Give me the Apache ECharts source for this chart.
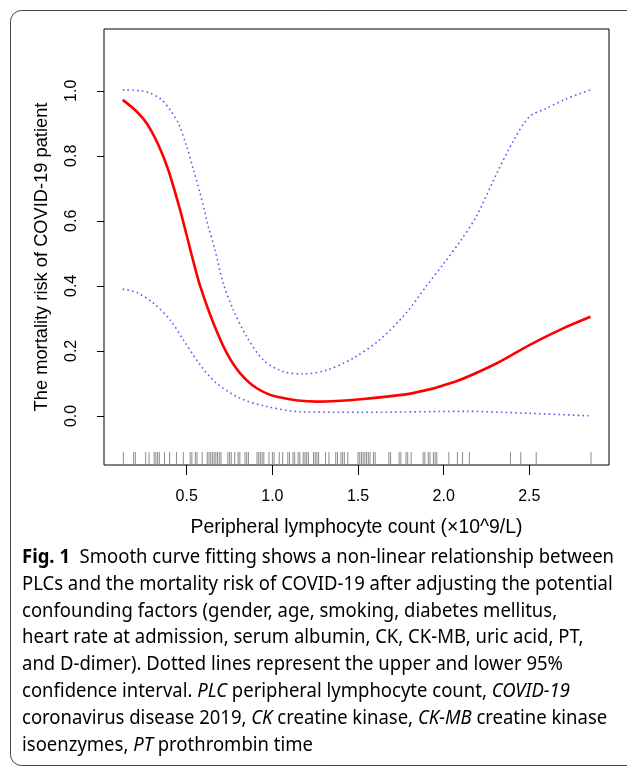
<!DOCTYPE html>
<html>
<head>
<meta charset="utf-8">
<script src="https://cdn.jsdelivr.net/npm/echarts@6/dist/echarts.min.js"></script>
<style>
  html, body { margin: 0; padding: 0; background: #fff; }
  #chart { width: 627px; height: 768px; }
</style>
</head>
<body>
<div id="chart"></div>
<script>
// fitted curve (red)
const fitX = [0.126, 0.2, 0.266, 0.334, 0.392, 0.461, 0.5, 0.54, 0.578, 0.656, 0.734, 0.812, 0.909, 1.026, 1.26, 1.53, 1.82, 2.07, 2.31, 2.5, 2.7, 2.857];
const fitY = [0.972, 0.94, 0.9, 0.834, 0.757, 0.634, 0.555, 0.472, 0.4, 0.285, 0.193, 0.131, 0.085, 0.059, 0.044, 0.052, 0.07, 0.106, 0.162, 0.218, 0.27, 0.305];

// upper 95% CI
const upperX = [0.126, 0.228, 0.286, 0.354, 0.403, 0.451, 0.5, 0.539, 0.578, 0.626, 0.665, 0.713, 0.772, 0.85, 0.947, 1.064, 1.18, 1.317, 1.47, 1.626, 1.78, 1.9, 2.0, 2.1, 2.19, 2.31, 2.41, 2.5, 2.6, 2.71, 2.857];
const upperY = [1.003, 1.0, 0.993, 0.972, 0.941, 0.9, 0.828, 0.757, 0.685, 0.582, 0.51, 0.408, 0.326, 0.244, 0.172, 0.136, 0.129, 0.141, 0.177, 0.234, 0.316, 0.4, 0.468, 0.54, 0.613, 0.746, 0.849, 0.92, 0.946, 0.974, 1.003];

// lower 95% CI
const lowerX = [0.126, 0.208, 0.305, 0.403, 0.48, 0.578, 0.675, 0.812, 0.967, 1.16, 1.53, 2.13, 2.5, 2.857];
const lowerY = [0.39, 0.38, 0.347, 0.295, 0.234, 0.157, 0.1, 0.054, 0.029, 0.013, 0.011, 0.014, 0.008, 0.0];

// observed PLC values (rug)
const rugX = [0.13, 0.19, 0.2, 0.26, 0.28, 0.31, 0.32, 0.33, 0.34, 0.37, 0.4, 0.44, 0.48,
  0.52, 0.53, 0.55, 0.56, 0.59, 0.62, 0.63, 0.64, 0.65, 0.66, 0.67, 0.68, 0.69, 0.7,
  0.74, 0.75, 0.76, 0.78, 0.8, 0.81, 0.84, 0.85, 0.86, 0.91, 0.92, 0.93, 0.94, 0.95,
  0.98, 1.0, 1.01, 1.04, 1.06, 1.09, 1.1, 1.12, 1.13, 1.15, 1.16, 1.18, 1.19, 1.2, 1.21,
  1.24, 1.25, 1.26, 1.27, 1.31, 1.33, 1.37, 1.38, 1.4, 1.41, 1.42, 1.44,
  1.5, 1.51, 1.52, 1.53, 1.54, 1.55, 1.56, 1.57, 1.59, 1.6, 1.68, 1.69, 1.74, 1.75,
  1.78, 1.79, 1.81, 1.88, 1.89, 1.91, 1.92, 1.94, 1.95, 1.96, 2.03, 2.08, 2.11, 2.15,
  2.39, 2.45, 2.54, 2.86];

const xTicks = [0.5, 1.0, 1.5, 2.0, 2.5];
const yTicks = [0, 0.2, 0.4, 0.6, 0.8, 1.0];

const captionLines = [
  [["b", "Fig. 1"], ["n", "  Smooth curve fitting shows a non-linear relationship between"]],
  [["n", "PLCs and the mortality risk of COVID-19 after adjusting the potential"]],
  [["n", "confounding factors (gender, age, smoking, diabetes mellitus,"]],
  [["n", "heart rate at admission, serum albumin, CK, CK-MB, uric acid, PT,"]],
  [["n", "and D-dimer). Dotted lines represent the upper and lower 95%"]],
  [["n", "confidence interval. "], ["i", "PLC"], ["n", " peripheral lymphocyte count, "], ["i", "COVID-19"]],
  [["n", "coronavirus disease 2019, "], ["i", "CK"], ["n", " creatine kinase, "], ["i", "CK-MB"], ["n", " creatine kinase"]],
  [["n", "isoenzymes, "], ["i", "PT"], ["n", " prothrombin time"]]
];

const pairs = (xs, ys) => xs.map((x, i) => [x, ys[i]]);

const Y_MIN = -0.151;
const CAP_FONT = "Noto Sans";
const CAP_SIZE = 20;
const fontFor = (k) =>
  (k === "b" ? "bold " : k === "i" ? "italic " : "") + CAP_SIZE + "px '" + CAP_FONT + "'";

// squeeze caption horizontally so the first line spans the same width as the figure
const ctx = document.createElement("canvas").getContext("2d");
const lineWidth = (segs) =>
  segs.reduce((w, [k, t]) => { ctx.font = fontFor(k); return w + ctx.measureText(t).width; }, 0);
const capScale = 592 / lineWidth(captionLines[0]);

const captionGraphics = captionLines.map((segs, i) => ({
  type: "text",
  x: 22,
  y: 557 + i * 26.9,
  scaleX: capScale,
  style: {
    text: segs.map(([k, t]) => "{" + k + "|" + t + "}").join(""),
    rich: {
      n: { fontFamily: CAP_FONT, fontSize: CAP_SIZE, color: "#231f20" },
      b: { fontFamily: CAP_FONT, fontSize: CAP_SIZE, fontWeight: "bold", color: "#231f20" },
      i: { fontFamily: CAP_FONT, fontSize: CAP_SIZE, fontStyle: "italic", color: "#231f20" }
    },
    verticalAlign: "middle"
  }
}));

const chart = echarts.init(document.getElementById("chart"), null, { renderer: "canvas" });

const dotted = { color: "#5a5aff", width: 1.6, type: [1.6, 3.2] };

chart.setOption({
  backgroundColor: "#fff",
  animation: false,
  grid: {
    left: 104, top: 29, width: 505, height: 436,
    show: true, borderColor: "#000", borderWidth: 1, backgroundColor: "transparent"
  },
  xAxis: {
    type: "value",
    min: 0.017,
    max: 2.965,
    axisLine: { show: false, onZero: false },
    splitLine: { show: false },
    axisTick: { show: true, length: 10, customValues: xTicks, lineStyle: { color: "#000" } },
    axisLabel: {
      customValues: xTicks,
      formatter: (v) => v.toFixed(1),
      margin: 24,
      color: "#000",
      fontFamily: "Liberation Sans",
      fontSize: 16
    },
    name: "Peripheral lymphocyte count (\u00d710^9/L)",
    nameLocation: "middle",
    nameGap: 53,
    nameTextStyle: { color: "#000", fontFamily: "Liberation Sans", fontSize: 19.4 }
  },
  yAxis: {
    type: "value",
    min: Y_MIN,
    max: 1.19,
    axisLine: { show: false, onZero: false },
    splitLine: { show: false },
    axisTick: { show: true, length: 7, customValues: yTicks, lineStyle: { color: "#000" } },
    axisLabel: {
      customValues: yTicks,
      formatter: (v) => v.toFixed(1),
      rotate: 90,
      margin: 24,
      color: "#000",
      fontFamily: "Liberation Sans",
      fontSize: 16
    },
    name: "The mortality risk of COVID-19 patient",
    nameLocation: "middle",
    nameGap: 53,
    nameTextStyle: {
      color: "#000", fontFamily: "Liberation Sans", fontSize: 18.3,
      padding: [0, 20, 0, 0]
    }
  },
  series: [
    {
      name: "rug",
      type: "custom",
      silent: true,
      data: rugX.map((x) => [x]),
      renderItem: (params, api) => {
        const p = api.coord([api.value(0), Y_MIN]);
        return {
          type: "line",
          shape: { x1: p[0], y1: p[1], x2: p[0], y2: p[1] - 13 },
          style: { stroke: "#8c8c8c", lineWidth: 1 }
        };
      }
    },
    {
      name: "upper",
      type: "line",
      data: pairs(upperX, upperY),
      smooth: 0.3,
      showSymbol: false,
      lineStyle: dotted
    },
    {
      name: "lower",
      type: "line",
      data: pairs(lowerX, lowerY),
      smooth: 0.3,
      showSymbol: false,
      lineStyle: dotted
    },
    {
      name: "fit",
      type: "line",
      data: pairs(fitX, fitY),
      smooth: 0.3,
      showSymbol: false,
      lineStyle: { color: "#ff0000", width: 2.6 }
    }
  ],
  graphic: [
    {
      type: "rect",
      shape: { x: 10.5, y: 10.5, width: 640, height: 755, r: 11 },
      style: { fill: "none", stroke: "#444", lineWidth: 1 },
      silent: true
    },
    ...captionGraphics
  ]
});
</script>
</body>
</html>
